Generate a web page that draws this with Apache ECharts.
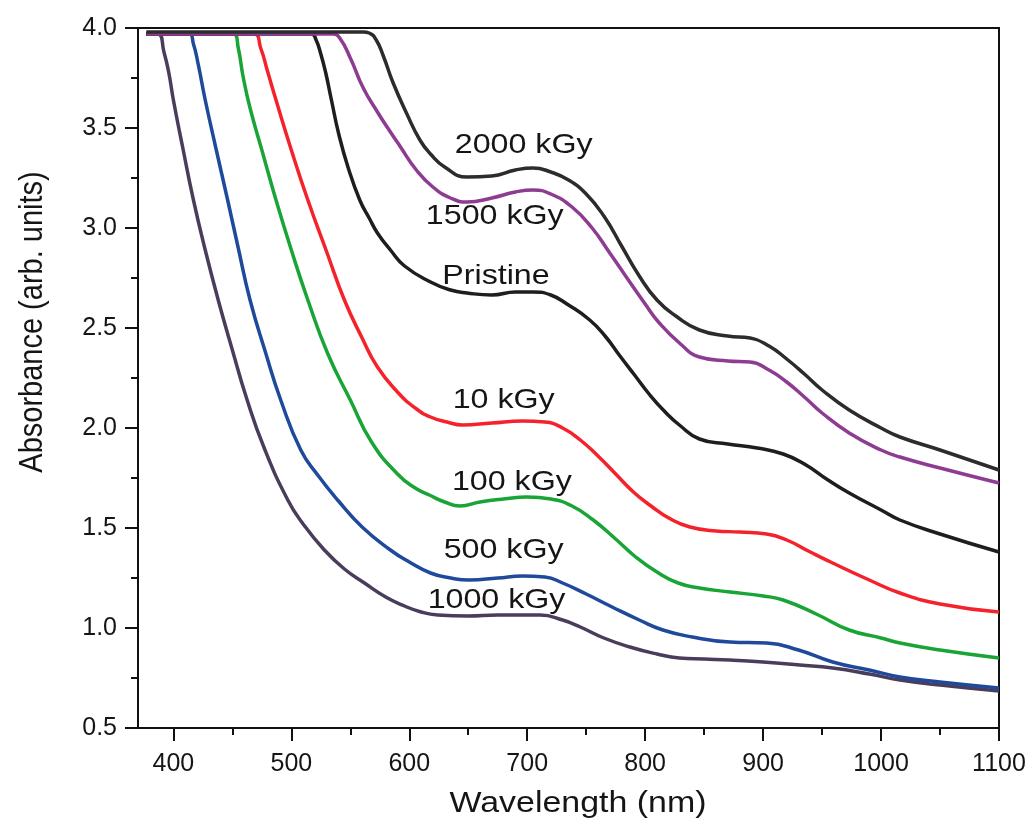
<!DOCTYPE html>
<html>
<head>
<meta charset="utf-8">
<script src="https://cdn.jsdelivr.net/npm/echarts@6/dist/echarts.min.js"></script>
<style>
html,body{margin:0;padding:0;background:#fff;}
#chart{width:1032px;height:830px;}
</style>
</head>
<body>
<div id="chart"></div>
<script>
// ---- data (wavelength in nm, absorbance in arb. units) ----
const wl1000 = [377, 387, 392, 396, 400, 408, 417, 427, 438, 450, 462, 477, 497, 510, 528, 545, 562, 580, 596, 610, 624, 650, 675, 700, 711, 730, 745, 765, 787, 810, 829, 850, 872, 900, 931, 959, 990, 1016, 1050, 1100];
const abs1000 = [3.97, 3.97, 3.88, 3.78, 3.64, 3.40, 3.14, 2.89, 2.64, 2.39, 2.15, 1.90, 1.64, 1.52, 1.39, 1.295, 1.225, 1.155, 1.11, 1.08, 1.065, 1.06, 1.065, 1.065, 1.065, 1.04, 1.005, 0.95, 0.905, 0.87, 0.85, 0.845, 0.84, 0.83, 0.815, 0.80, 0.77, 0.74, 0.715, 0.685];

const wl500 = [377, 413, 417, 421, 427, 436, 446, 455, 465, 478, 491, 508, 523, 540, 560, 584, 600, 618, 635, 651, 675, 696, 715, 730, 750, 772, 795, 815, 840, 872, 903, 930, 959, 990, 1016, 1050, 1100];
const abs500 = [3.97, 3.97, 3.92, 3.82, 3.64, 3.40, 3.14, 2.90, 2.64, 2.38, 2.14, 1.89, 1.76, 1.635, 1.505, 1.39, 1.33, 1.275, 1.25, 1.24, 1.25, 1.26, 1.255, 1.225, 1.17, 1.105, 1.04, 0.99, 0.955, 0.93, 0.925, 0.89, 0.83, 0.79, 0.755, 0.73, 0.70];

const wl100 = [377, 451, 455, 459, 465, 475, 487, 500, 514, 531, 550, 568, 590, 605, 617, 630, 643, 660, 680, 700, 720, 738, 756, 774, 792, 810, 828, 846, 872, 900, 917, 945, 973, 1000, 1016, 1050, 1100];
const abs100 = [3.97, 3.97, 3.90, 3.76, 3.60, 3.39, 3.14, 2.89, 2.64, 2.37, 2.14, 1.93, 1.77, 1.70, 1.665, 1.63, 1.61, 1.63, 1.645, 1.655, 1.645, 1.61, 1.54, 1.45, 1.355, 1.28, 1.225, 1.20, 1.18, 1.16, 1.14, 1.07, 0.99, 0.95, 0.925, 0.89, 0.85];

const wl10 = [377, 468, 474, 480, 487, 500, 514, 530, 545, 560, 573, 590, 605, 618, 632, 645, 670, 696, 715, 730, 745, 760, 775, 790, 805, 820, 838, 860, 880, 903, 920, 940, 959, 990, 1016, 1050, 1100];
const abs10 = [3.97, 3.97, 3.90, 3.78, 3.64, 3.39, 3.14, 2.88, 2.64, 2.45, 2.305, 2.18, 2.10, 2.055, 2.03, 2.015, 2.025, 2.035, 2.03, 2.00, 1.94, 1.86, 1.77, 1.68, 1.61, 1.55, 1.505, 1.485, 1.48, 1.47, 1.44, 1.38, 1.325, 1.24, 1.175, 1.12, 1.08];

const wlPristine = [377, 517, 521, 525, 529, 534, 540, 548, 558, 566, 573, 584, 596, 618, 635, 649, 670, 690, 705, 720, 735, 753, 766, 778, 791, 804, 817, 829, 846, 870, 895, 917, 935, 955, 973, 1000, 1016, 1050, 1100];
const absPristine = [3.97, 3.97, 3.94, 3.87, 3.78, 3.64, 3.475, 3.305, 3.14, 3.05, 2.975, 2.89, 2.81, 2.73, 2.69, 2.675, 2.665, 2.68, 2.68, 2.665, 2.615, 2.54, 2.46, 2.365, 2.265, 2.165, 2.08, 2.015, 1.945, 1.92, 1.90, 1.87, 1.82, 1.74, 1.675, 1.59, 1.54, 1.47, 1.38];

const wl1500 = [377, 535, 541, 550, 561, 573, 584, 592, 606, 620, 635, 649, 670, 690, 705, 720, 738, 755, 770, 784, 800, 812, 830, 846, 870, 889, 905, 920, 935, 950, 973, 1000, 1016, 1050, 1100];
const abs1500 = [3.97, 3.97, 3.95, 3.85, 3.70, 3.58, 3.48, 3.41, 3.29, 3.205, 3.15, 3.13, 3.15, 3.18, 3.19, 3.17, 3.105, 3.00, 2.875, 2.755, 2.62, 2.525, 2.42, 2.355, 2.335, 2.33, 2.29, 2.23, 2.155, 2.075, 1.975, 1.89, 1.855, 1.80, 1.725];

const wl2000 = [377, 561, 566, 572, 578, 586, 598, 609, 618, 630, 649, 670, 690, 705, 720, 735, 750, 765, 780, 795, 810, 826, 846, 870, 889, 905, 920, 935, 950, 973, 1000, 1016, 1050, 1100];
const abs2000 = [3.98, 3.98, 3.975, 3.94, 3.86, 3.73, 3.57, 3.44, 3.37, 3.305, 3.255, 3.26, 3.29, 3.30, 3.28, 3.24, 3.17, 3.06, 2.91, 2.76, 2.64, 2.56, 2.49, 2.46, 2.45, 2.41, 2.345, 2.27, 2.19, 2.09, 2.00, 1.955, 1.89, 1.79];

// curve labels and their anchor positions (data coordinates)
const labelNames = ['2000 kGy', '1500 kGy', 'Pristine', '10 kGy', '100 kGy', '500 kGy', '1000 kGy'];
const labelWl    = [697, 672.5, 673.5, 680, 687, 680, 674];
const labelAbs   = [3.415, 3.06, 2.76, 2.14, 1.73, 1.39, 1.14];

// tick values
const xMajorTicks = [400, 500, 600, 700, 800, 900, 1000, 1100];
const xMinorTicks = [450, 550, 650, 750, 850, 950, 1050];

const xTitle = 'Wavelength (nm)';
const yTitle = 'Absorbance (arb. units)';

const FONT = '"Liberation Sans", Arial, Helvetica, sans-serif';

function pairs(xs, ys) { return xs.map((x, i) => [x, ys[i]]); }

const curves = [
  { name: '1000 kGy', x: wl1000, y: abs1000, color: '#4a3d5c' },
  { name: '500 kGy',  x: wl500,  y: abs500,  color: '#1f4a9b' },
  { name: '100 kGy',  x: wl100,  y: abs100,  color: '#18a536' },
  { name: '10 kGy',   x: wl10,   y: abs10,   color: '#f4232b' },
  { name: 'Pristine', x: wlPristine, y: absPristine, color: '#1e1e1e' },
  { name: '1500 kGy', x: wl1500, y: abs1500, color: '#8d3c92' },
  { name: '2000 kGy', x: wl2000, y: abs2000, color: '#2c2c2c' }
];

const chart = echarts.init(document.getElementById('chart'), null, { renderer: 'canvas' });

const series = curves.map(c => ({
  type: 'line',
  name: c.name,
  xAxisIndex: 0,
  yAxisIndex: 0,
  data: pairs(c.x, c.y),
  showSymbol: false,
  smooth: 0.5,
  lineStyle: { color: c.color, width: 3.5 },
  itemStyle: { color: c.color },
  animation: false,
  silent: true
}));

series.push({
  type: 'custom',
  xAxisIndex: 0,
  yAxisIndex: 0,
  data: labelWl.map((x, i) => [x, labelAbs[i], i]),
  encode: { x: 0, y: 1 },
  silent: true,
  animation: false,
  renderItem: function (params, api) {
    const p = api.coord([api.value(0), api.value(1)]);
    return {
      type: 'text',
      x: p[0],
      y: p[1],
      scaleX: 1.15,
      scaleY: 1,
      style: {
        text: labelNames[params.dataIndex],
        fill: '#151515',
        font: '28px ' + FONT,
        align: 'center',
        verticalAlign: 'middle',
        textAlign: 'center',
        textVerticalAlign: 'middle'
      }
    };
  }
});

const option = {
  backgroundColor: '#ffffff',
  animation: false,
  grid: {
    left: 138, right: 33, top: 28, bottom: 102,
    show: true, borderColor: '#111', borderWidth: 2, backgroundColor: 'transparent'
  },
  graphic: [
    {
      type: 'text', x: 578, y: 804, scaleX: 1.17, silent: true,
      style: { text: xTitle, font: '29px ' + FONT, fill: '#151515', align: 'center', verticalAlign: 'middle', textAlign: 'center', textVerticalAlign: 'middle' }
    },
    {
      type: 'text', x: 33, y: 322, rotation: Math.PI / 2, scaleY: 1.15, silent: true,
      style: { text: yTitle, font: '29px ' + FONT, fill: '#151515', align: 'center', verticalAlign: 'middle', textAlign: 'center', textVerticalAlign: 'middle' }
    }
  ],
  xAxis: [
    {
      type: 'value',
      min: 370, max: 1100,
      position: 'bottom',
      axisLine: { show: true, lineStyle: { color: '#111', width: 2 } },
      axisTick: { show: true, inside: false, length: 13, lineStyle: { color: '#111', width: 2 }, customValues: xMajorTicks },
      axisLabel: { show: true, margin: 24, fontFamily: FONT, fontSize: 25, color: '#151515', customValues: xMajorTicks, formatter: v => String(v) },
      splitLine: { show: false }
    },
    {
      type: 'value',
      min: 370, max: 1100,
      position: 'bottom',
      offset: 0,
      axisLine: { show: false },
      axisTick: { show: true, inside: false, length: 7, lineStyle: { color: '#111', width: 2 }, customValues: xMinorTicks },
      axisLabel: { show: false, customValues: xMinorTicks },
      splitLine: { show: false }
    }
  ],
  yAxis: {
    type: 'value',
    min: 0.5, max: 4.0, interval: 0.5,
    axisLine: { show: true, lineStyle: { color: '#111', width: 2 } },
    axisTick: { show: true, inside: false, length: 13, lineStyle: { color: '#111', width: 2 } },
    minorTick: { show: true, splitNumber: 2, length: 7, lineStyle: { color: '#111', width: 2 } },
    axisLabel: { margin: 21, fontFamily: FONT, fontSize: 25, color: '#151515', formatter: v => v.toFixed(1) },
    splitLine: { show: false },
    minorSplitLine: { show: false }
  },
  series: series
};

chart.setOption(option);
</script>
</body>
</html>
